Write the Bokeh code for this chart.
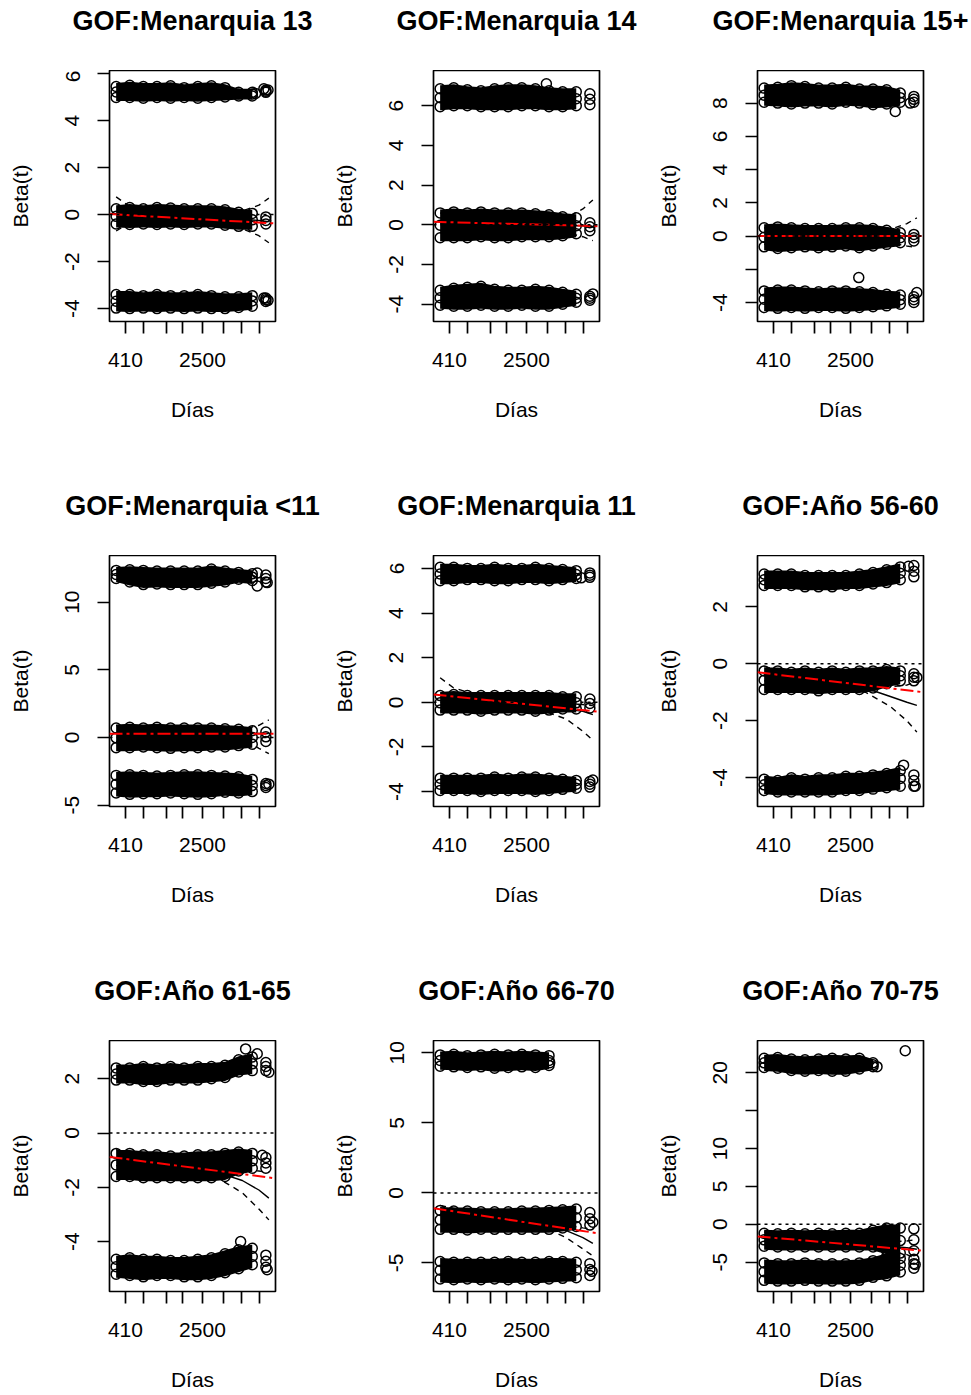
from bokeh.plotting import figure
from bokeh.layouts import column, row
from bokeh.models import FixedTicker, Span, Range1d
from bokeh.core.properties import value
from bokeh.embed import file_html
from bokeh.resources import INLINE

# ---------------- data ----------------
titles = ["GOF:Menarquia 13", "GOF:Menarquia 14", "GOF:Menarquia 15+",
          "GOF:Menarquia <11", "GOF:Menarquia 11", "GOF:Año 56-60",
          "GOF:Año 61-65", "GOF:Año 66-70", "GOF:Año 70-75"]

# transformed time (km scale, fraction of the time axis)
x_tick_pos = [0.096, 0.205, 0.343, 0.44, 0.56, 0.687, 0.795, 0.904]
x_tick_labels = ["410", "", "", "", "2500", "", "", ""]

y_ticks_p1 = [-4, -2, 0, 2, 4, 6]
y_labels_p1 = ["-4", "-2", "0", "2", "4", "6"]
y_ticks_p2 = [-4, -2, 0, 2, 4, 6]
y_labels_p2 = ["-4", "-2", "0", "2", "4", "6"]
y_ticks_p3 = [-4, -2, 0, 2, 4, 6, 8]
y_labels_p3 = ["-4", "", "0", "2", "4", "6", "8"]
y_ticks_p4 = [-5, 0, 5, 10]
y_labels_p4 = ["-5", "0", "5", "10"]
y_ticks_p5 = [-4, -2, 0, 2, 4, 6]
y_labels_p5 = ["-4", "-2", "0", "2", "4", "6"]
y_ticks_p6 = [-4, -2, 0, 2]
y_labels_p6 = ["-4", "-2", "0", "2"]
y_ticks_p7 = [-4, -2, 0, 2]
y_labels_p7 = ["-4", "-2", "0", "2"]
y_ticks_p8 = [-5, 0, 5, 10]
y_labels_p8 = ["-5", "0", "5", "10"]
y_ticks_p9 = [-5, 0, 5, 10, 15, 20]
y_labels_p9 = ["-5", "0", "5", "10", "", "20"]

y_lims = [(-4.55, 6.13), (-4.87, 7.77), (-5.14, 9.96),
          (-5.1, 13.45), (-4.67, 6.58), (-5.01, 3.80),
          (-5.84, 3.41), (-7.04, 10.88), (-8.87, 24.25)]

# x positions at which the residual clouds are read
band_x = [0.04, 0.122, 0.204, 0.286, 0.368, 0.45, 0.532, 0.614, 0.696, 0.778, 0.86, 0.942]

# scaled Schoenfeld residual clouds: upper / lower edge (point centres) per band
p1_top_hi = [5.45, 5.5, 5.45, 5.45, 5.48, 5.4, 5.45, 5.48, 5.4, 5.2, 5.2, 5.3]
p1_top_lo = [4.98, 4.98, 4.95, 4.98, 4.95, 4.98, 4.95, 4.98, 5.0, 5.05, 5.05, 5.2]
p1_mid_hi = [0.25, 0.3, 0.25, 0.3, 0.28, 0.25, 0.25, 0.25, 0.2, 0.1, 0.05, -0.1]
p1_mid_lo = [-0.4, -0.42, -0.4, -0.42, -0.4, -0.42, -0.4, -0.4, -0.45, -0.5, -0.5, -0.4]
p1_bot_hi = [-3.4, -3.4, -3.45, -3.4, -3.45, -3.45, -3.4, -3.45, -3.5, -3.5, -3.45, -3.55]
p1_bot_lo = [-3.98, -4.0, -3.98, -4.0, -3.98, -4.0, -3.98, -4.0, -4.0, -3.95, -3.9, -3.7]

p2_top_hi = [6.85, 6.9, 6.8, 6.75, 6.85, 6.9, 6.9, 6.85, 6.75, 6.7, 6.7, 6.6]
p2_top_lo = [5.95, 6.0, 6.0, 5.95, 5.95, 5.95, 6.0, 6.0, 5.95, 5.95, 6.0, 6.05]
p2_mid_hi = [0.6, 0.65, 0.6, 0.65, 0.6, 0.6, 0.6, 0.55, 0.5, 0.4, 0.35, 0.1]
p2_mid_lo = [-0.65, -0.65, -0.65, -0.6, -0.65, -0.65, -0.6, -0.6, -0.6, -0.55, -0.45, -0.3]
p2_bot_hi = [-3.3, -3.2, -3.15, -3.1, -3.25, -3.3, -3.3, -3.25, -3.3, -3.4, -3.5, -3.6]
p2_bot_lo = [-4.05, -4.1, -4.1, -4.05, -4.1, -4.1, -4.05, -4.1, -4.1, -4.0, -3.9, -3.8]

p3_top_hi = [8.9, 8.95, 9.05, 9.0, 8.9, 8.9, 8.95, 8.85, 8.85, 8.8, 8.6, 8.4]
p3_top_lo = [8.05, 8.0, 7.95, 8.0, 8.0, 7.95, 8.05, 8.0, 7.9, 7.95, 8.05, 8.05]
p3_mid_hi = [0.5, 0.55, 0.5, 0.45, 0.45, 0.45, 0.5, 0.5, 0.45, 0.35, 0.2, 0.1]
p3_mid_lo = [-0.65, -0.75, -0.7, -0.65, -0.7, -0.65, -0.6, -0.7, -0.6, -0.5, -0.4, -0.3]
p3_bot_hi = [-3.3, -3.25, -3.25, -3.3, -3.35, -3.3, -3.3, -3.35, -3.4, -3.5, -3.55, -3.65]
p3_bot_lo = [-4.3, -4.35, -4.3, -4.35, -4.3, -4.3, -4.35, -4.3, -4.25, -4.2, -4.1, -4.0]

p4_top_hi = [12.35, 12.4, 12.35, 12.3, 12.3, 12.3, 12.3, 12.45, 12.3, 12.2, 12.1, 12.0]
p4_top_lo = [11.75, 11.5, 11.3, 11.35, 11.3, 11.3, 11.3, 11.4, 11.5, 11.7, 11.6, 11.5]
p4_mid_hi = [0.7, 0.75, 0.7, 0.75, 0.7, 0.7, 0.7, 0.7, 0.65, 0.6, 0.5, 0.4]
p4_mid_lo = [-0.75, -0.75, -0.7, -0.75, -0.8, -0.75, -0.75, -0.7, -0.7, -0.6, -0.5, -0.3]
p4_bot_hi = [-2.8, -2.75, -2.8, -2.85, -2.8, -2.75, -2.75, -2.8, -2.85, -2.9, -3.1, -3.4]
p4_bot_lo = [-4.1, -4.2, -4.15, -4.15, -4.1, -4.15, -4.2, -4.15, -4.05, -4.1, -4.0, -3.7]

p5_top_hi = [6.05, 6.05, 6.0, 6.0, 6.05, 6.0, 6.0, 6.05, 6.0, 5.95, 5.9, 5.8]
p5_top_lo = [5.45, 5.45, 5.5, 5.5, 5.45, 5.45, 5.5, 5.5, 5.45, 5.5, 5.55, 5.6]
p5_mid_hi = [0.3, 0.35, 0.3, 0.3, 0.3, 0.3, 0.3, 0.3, 0.3, 0.25, 0.25, 0.15]
p5_mid_lo = [-0.35, -0.35, -0.35, -0.4, -0.35, -0.35, -0.35, -0.4, -0.35, -0.3, -0.3, -0.25]
p5_bot_hi = [-3.4, -3.4, -3.4, -3.4, -3.35, -3.4, -3.35, -3.35, -3.4, -3.45, -3.5, -3.55]
p5_bot_lo = [-3.95, -3.95, -3.95, -4.0, -3.95, -3.95, -3.95, -4.0, -3.95, -3.9, -3.85, -3.8]

p6_top_hi = [3.15, 3.15, 3.15, 3.1, 3.1, 3.1, 3.1, 3.15, 3.2, 3.3, 3.4, 3.45]
p6_top_lo = [2.75, 2.75, 2.75, 2.7, 2.7, 2.7, 2.75, 2.75, 2.8, 2.85, 2.95, 3.05]
p6_mid_hi = [-0.25, -0.25, -0.3, -0.25, -0.3, -0.25, -0.3, -0.25, -0.25, -0.2, -0.25, -0.35]
p6_mid_lo = [-0.9, -0.9, -0.9, -0.9, -0.95, -0.9, -0.9, -0.9, -0.85, -0.7, -0.6, -0.6]
p6_bot_hi = [-4.05, -4.1, -4.0, -4.05, -4.0, -4.0, -3.95, -3.95, -3.9, -3.85, -3.75, -3.9]
p6_bot_lo = [-4.45, -4.5, -4.5, -4.5, -4.5, -4.5, -4.45, -4.45, -4.4, -4.35, -4.3, -4.3]

p7_top_hi = [2.4, 2.4, 2.45, 2.4, 2.45, 2.4, 2.45, 2.45, 2.5, 2.7, 2.8, 2.6]
p7_top_lo = [1.95, 1.95, 1.9, 1.9, 1.95, 1.95, 1.95, 2.0, 2.05, 2.25, 2.3, 2.3]
p7_mid_hi = [-0.75, -0.75, -0.8, -0.8, -0.85, -0.85, -0.8, -0.8, -0.75, -0.7, -0.75, -0.9]
p7_mid_lo = [-1.6, -1.6, -1.65, -1.65, -1.65, -1.65, -1.65, -1.65, -1.6, -1.4, -1.3, -1.3]
p7_bot_hi = [-4.65, -4.6, -4.65, -4.65, -4.7, -4.7, -4.65, -4.6, -4.45, -4.3, -4.25, -4.5]
p7_bot_lo = [-5.2, -5.25, -5.3, -5.25, -5.25, -5.3, -5.3, -5.25, -5.15, -5.0, -4.85, -4.95]

p8_top_hi = [9.85, 9.9, 9.8, 9.85, 9.9, 9.85, 9.9, 9.85, 9.8, None, None, None]
p8_top_lo = [9.05, 9.0, 8.95, 9.0, 8.9, 8.95, 9.0, 8.95, 9.1, None, None, None]
p8_mid_hi = [-1.25, -1.3, -1.3, -1.35, -1.35, -1.35, -1.3, -1.3, -1.25, -1.2, -1.15, -1.4]
p8_mid_lo = [-2.6, -2.6, -2.65, -2.6, -2.6, -2.6, -2.6, -2.6, -2.6, -2.5, -2.4, -2.3]
p8_bot_hi = [-4.9, -4.95, -4.95, -4.95, -4.95, -4.9, -4.95, -4.95, -4.9, -4.9, -4.95, -5.05]
p8_bot_lo = [-6.15, -6.2, -6.15, -6.2, -6.15, -6.2, -6.15, -6.2, -6.15, -6.1, -6.05, -5.9]

p9_top_hi = [21.9, 22.0, 21.8, 21.7, 21.8, 21.9, 21.8, 21.9, 21.3, None, None, None]
p9_top_lo = [20.7, 20.6, 20.3, 20.2, 20.3, 20.2, 20.2, 20.5, 20.8, None, None, None]
p9_mid_hi = [-1.2, -1.25, -1.2, -1.25, -1.2, -1.25, -1.2, -1.2, -0.8, -0.5, -0.5, -0.6]
p9_mid_lo = [-2.9, -3.0, -3.0, -3.0, -3.0, -3.0, -3.0, -3.0, -3.0, -3.5, -3.8, -3.5]
p9_bot_hi = [-5.1, -5.2, -5.2, -5.1, -5.2, -5.2, -5.2, -5.1, -4.8, -4.3, -4.5, -4.6]
p9_bot_lo = [-7.4, -7.5, -7.5, -7.4, -7.5, -7.5, -7.5, -7.4, -7.0, -6.8, -6.3, -5.8]

# isolated residual points
p1_out_x = [0.88, 0.93, 0.955, 0.955, 0.93]
p1_out_y = [5.15, 5.35, 5.3, -3.65, -3.55]
p2_out_x = [0.68, 0.96]
p2_out_y = [7.1, -3.48]
p3_out_x = [0.61, 0.83, 0.92, 0.96]
p3_out_y = [-2.5, 7.5, 8.0, -3.4]
p4_out_x = [0.89, 0.95, 0.89, 0.96]
p4_out_y = [12.15, 11.45, 11.2, -3.45]
p5_out_x = [0.89, 0.96]
p5_out_y = [5.58, -3.48]
p6_out_x = [0.96, 0.95, 0.91, 0.88]
p6_out_y = [-0.48, -4.3, 3.42, -3.56]
p7_out_x = [0.82, 0.89, 0.96, 0.95, 0.79, 0.92]
p7_out_y = [3.1, 2.92, 2.24, -5.04, -4.0, -0.82]
p8_out_x = [0.70, 0.96, 0.955]
p8_out_y = [9.3, -2.1, -5.6]
p9_out_x = [0.89, 0.72, 0.95]
p9_out_y = [22.9, 20.8, -5.3]

# smoothed beta(t) with confidence band
spline_x = [0.04, 0.12, 0.25, 0.45, 0.65, 0.8, 0.9, 0.96]
p1_fit = [0.02, 0.0, -0.05, -0.1, -0.15, -0.2, -0.25, -0.3]
p1_up = [0.75, 0.35, 0.2, 0.12, 0.1, 0.15, 0.4, 0.7]
p1_lo = [-0.7, -0.35, -0.3, -0.32, -0.4, -0.6, -0.9, -1.2]
p2_fit = [0.1, 0.1, 0.05, 0.0, 0.0, -0.05, -0.05, -0.1]
p2_up = [0.6, 0.4, 0.25, 0.2, 0.2, 0.35, 0.8, 1.25]
p2_lo = [-0.4, -0.2, -0.15, -0.2, -0.25, -0.4, -0.6, -0.8]
p3_fit = [0.0, 0.0, 0.0, 0.0, 0.0, 0.0, 0.0, 0.05]
p3_up = [0.5, 0.3, 0.2, 0.2, 0.25, 0.4, 0.75, 1.1]
p3_lo = [-0.5, -0.3, -0.2, -0.2, -0.25, -0.4, -0.6, -0.7]
p4_fit = [0.3, 0.3, 0.3, 0.3, 0.3, 0.3, 0.3, 0.3]
p4_up = [0.9, 0.6, 0.5, 0.5, 0.5, 0.6, 0.9, 1.3]
p4_lo = [-0.3, 0.0, 0.1, 0.1, 0.1, 0.0, -0.8, -1.2]
p5_fit = [0.35, 0.25, 0.15, 0.0, -0.15, -0.3, -0.4, -0.55]
p5_up = [1.1, 0.65, 0.35, 0.15, 0.05, -0.05, -0.1, -0.15]
p5_lo = [-0.4, -0.15, -0.05, -0.15, -0.35, -0.75, -1.3, -1.7]
p6_fit = [-0.35, -0.4, -0.5, -0.65, -0.85, -1.15, -1.35, -1.46]
p6_up = [-0.1, -0.2, -0.35, -0.5, -0.7, -0.8, -0.75, -0.6]
p6_lo = [-0.6, -0.6, -0.65, -0.8, -1.0, -1.5, -2.0, -2.4]
p7_fit = [-0.9, -1.0, -1.1, -1.25, -1.45, -1.75, -2.1, -2.4]
p7_up = [-0.6, -0.8, -0.95, -1.1, -1.25, -1.35, -1.4, -1.45]
p7_lo = [-1.2, -1.2, -1.25, -1.4, -1.65, -2.2, -2.8, -3.2]
p8_fit = [-1.2, -1.3, -1.5, -1.8, -2.2, -2.7, -3.2, -3.6]
p8_up = [-0.9, -1.1, -1.35, -1.65, -2.0, -2.3, -2.5, -2.6]
p8_lo = [-1.5, -1.5, -1.65, -1.95, -2.4, -3.2, -4.0, -4.5]
p9_fit = [-1.6, -1.8, -2.0, -2.3, -2.6, -2.9, -3.1, -3.3]
p9_up = [-1.0, -1.4, -1.7, -2.0, -2.2, -2.3, -2.2, -2.0]
p9_lo = [-2.2, -2.2, -2.3, -2.6, -3.0, -3.5, -4.0, -4.6]

# fitted coefficient line (red), value at the left and right edge of the time axis
coef_left = [0.02, 0.15, 0.0, 0.28, 0.35, -0.30, -0.88, -1.1, -1.6]
coef_right = [-0.38, -0.07, 0.0, 0.28, -0.43, -1.0, -1.67, -2.9, -3.5]

# ---------------- build ----------------
bands = [
    [(p1_top_hi, p1_top_lo), (p1_mid_hi, p1_mid_lo), (p1_bot_hi, p1_bot_lo)],
    [(p2_top_hi, p2_top_lo), (p2_mid_hi, p2_mid_lo), (p2_bot_hi, p2_bot_lo)],
    [(p3_top_hi, p3_top_lo), (p3_mid_hi, p3_mid_lo), (p3_bot_hi, p3_bot_lo)],
    [(p4_top_hi, p4_top_lo), (p4_mid_hi, p4_mid_lo), (p4_bot_hi, p4_bot_lo)],
    [(p5_top_hi, p5_top_lo), (p5_mid_hi, p5_mid_lo), (p5_bot_hi, p5_bot_lo)],
    [(p6_top_hi, p6_top_lo), (p6_mid_hi, p6_mid_lo), (p6_bot_hi, p6_bot_lo)],
    [(p7_top_hi, p7_top_lo), (p7_mid_hi, p7_mid_lo), (p7_bot_hi, p7_bot_lo)],
    [(p8_top_hi, p8_top_lo), (p8_mid_hi, p8_mid_lo), (p8_bot_hi, p8_bot_lo)],
    [(p9_top_hi, p9_top_lo), (p9_mid_hi, p9_mid_lo), (p9_bot_hi, p9_bot_lo)],
]
outliers = [(p1_out_x, p1_out_y), (p2_out_x, p2_out_y), (p3_out_x, p3_out_y),
            (p4_out_x, p4_out_y), (p5_out_x, p5_out_y), (p6_out_x, p6_out_y),
            (p7_out_x, p7_out_y), (p8_out_x, p8_out_y), (p9_out_x, p9_out_y)]
splines = [(p1_fit, p1_up, p1_lo), (p2_fit, p2_up, p2_lo), (p3_fit, p3_up, p3_lo),
           (p4_fit, p4_up, p4_lo), (p5_fit, p5_up, p5_lo), (p6_fit, p6_up, p6_lo),
           (p7_fit, p7_up, p7_lo), (p8_fit, p8_up, p8_lo), (p9_fit, p9_up, p9_lo)]
yticks = [(y_ticks_p1, y_labels_p1), (y_ticks_p2, y_labels_p2), (y_ticks_p3, y_labels_p3),
          (y_ticks_p4, y_labels_p4), (y_ticks_p5, y_labels_p5), (y_ticks_p6, y_labels_p6),
          (y_ticks_p7, y_labels_p7), (y_ticks_p8, y_labels_p8), (y_ticks_p9, y_labels_p9)]

FONT = "Liberation Sans"
LW = 1.7
MS = 10
FRAME_H = 251
FRAME_W = 166
LEFT_B = 109
TITLE_H = 70       # strip holding the panel title, above each plot box
TITLE_Y = 20.6     # title centre, pixels from top of the strip
PAD_PX = 3.5       # fill reaches a little past the circle centres


def make_title(i, width):
    t = figure(width=width, height=TITLE_H, x_range=Range1d(0, width),
               y_range=Range1d(TITLE_H, 0), output_backend="svg",
               toolbar_location=None, min_border=0, min_border_left=0,
               min_border_right=0, min_border_top=0, min_border_bottom=0)
    t.axis.visible = False
    t.grid.visible = False
    t.outline_line_color = None
    t.background_fill_color = "white"
    t.border_fill_color = "white"
    t.text(x=[LEFT_B + FRAME_W / 2], y=[TITLE_Y], text=[titles[i]],
           text_font=value(FONT), text_font_size="27px",
           text_font_style="bold", text_color="black",
           text_align="center", text_baseline="middle")
    return t


def make_panel(i, width, height, bottom_border):
    ylo, yhi = y_lims[i]
    pad = PAD_PX * (yhi - ylo) / FRAME_H
    p = figure(width=width, height=height, x_range=(0, 1), y_range=(ylo, yhi),
               output_backend="svg", toolbar_location=None,
               min_border_left=LEFT_B, min_border_right=width - LEFT_B - FRAME_W,
               min_border_top=0, min_border_bottom=bottom_border)
    p.background_fill_color = "white"
    p.border_fill_color = "white"
    p.outline_line_color = "black"
    p.outline_line_width = LW
    p.grid.visible = False
    p.title.visible = False

    xa = p.xaxis[0]
    xa.ticker = FixedTicker(ticks=x_tick_pos)
    xa.major_label_overrides = {t: l for t, l in zip(x_tick_pos, x_tick_labels)}
    ya = p.yaxis[0]
    yt, yl = yticks[i]
    ya.ticker = FixedTicker(ticks=yt)
    ya.major_label_overrides = {t: l for t, l in zip(yt, yl)}
    ya.major_label_orientation = "vertical"
    for ax in (xa, ya):
        ax.axis_line_color = None
        ax.major_tick_out = 12
        ax.major_tick_in = 0
        ax.minor_tick_out = 0
        ax.minor_tick_in = 0
        ax.major_tick_line_width = LW
        ax.major_tick_line_color = "black"
        ax.major_label_text_font = FONT
        ax.major_label_text_font_size = "21px"
        ax.major_label_text_color = "black"
        ax.axis_label_text_font = FONT
        ax.axis_label_text_font_size = "21px"
        ax.axis_label_text_font_style = "normal"
        ax.axis_label_text_color = "black"
    xa.axis_label = "Días"
    ya.axis_label = "Beta(t)"
    xa.major_label_standoff = 19
    xa.axis_label_standoff = 28
    ya.major_label_standoff = 18
    ya.axis_label_standoff = 31

    # residual clouds
    for hi, lo in bands[i]:
        xs = [x for x, h in zip(band_x, hi) if h is not None]
        h = [v for v in hi if v is not None]
        l = [v for v in lo if v is not None]
        n = len(xs)
        dense = n - 1 if n == len(band_x) else n
        p.varea(x=xs[:dense], y1=[v - pad for v in l[:dense]],
                y2=[v + pad for v in h[:dense]], fill_color="black")
        mid = [(a + b) / 2 for a, b in zip(h, l)]
        for ys in (h, l, mid):
            p.scatter(xs, ys, marker="circle", size=MS, fill_color=None,
                      line_color="black", line_width=1.5)
    ox, oy = outliers[i]
    p.scatter(ox, oy, marker="circle", size=MS, fill_color=None,
              line_color="black", line_width=1.5)

    # smooth and confidence band
    fit, up, lo = splines[i]
    p.line(spline_x, fit, line_color="black", line_width=1.4)
    p.line(spline_x, up, line_color="black", line_width=1.4, line_dash="6 5")
    p.line(spline_x, lo, line_color="black", line_width=1.4, line_dash="6 5")

    # zero reference and coefficient line
    p.add_layout(Span(location=0, dimension="width", line_color="black",
                      line_width=1.5, line_dash="3 4"))
    p.line([0, 1], [coef_left[i], coef_right[i]], line_color="#ff0000",
           line_width=2, line_dash="13 4 3 4")
    return p


widths = [324, 324, 323]
parts = []
for r in range(3):
    h = 485 if r < 2 else 425
    ph = h - TITLE_H
    bb = ph - FRAME_H
    parts.append(row(*[make_title(3 * r + c, widths[c]) for c in range(3)]))
    parts.append(row(*[make_panel(3 * r + c, widths[c], ph, bb) for c in range(3)]))

layout = column(*parts)
open("out.html", "w").write(file_html(layout, INLINE))
